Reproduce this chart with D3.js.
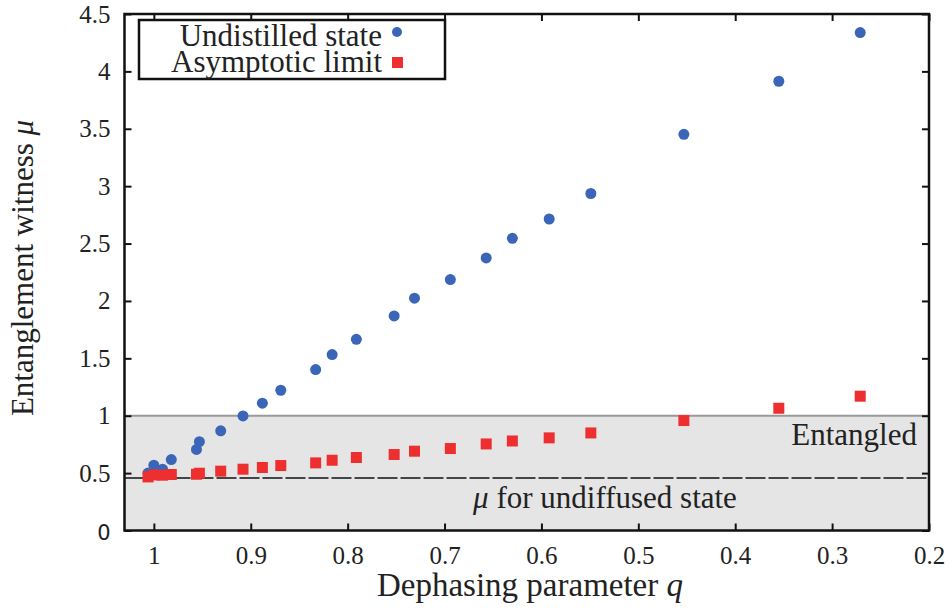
<!DOCTYPE html>
<html>
<head>
<meta charset="utf-8">
<script src="https://cdn.jsdelivr.net/npm/d3@7"></script>
<style>
  body { margin: 0; background: #fff; }
</style>
</head>
<body>
<svg id="chart" width="952" height="610" font-family="Liberation Serif"></svg>
<script>
// dephasing parameter q for every run
const qValues = [1.006, 1.000, 0.991, 0.982, 0.956, 0.953, 0.931, 0.908, 0.888, 0.869,
  0.833, 0.816, 0.791, 0.752, 0.731, 0.694, 0.657, 0.630, 0.592, 0.549, 0.453, 0.355, 0.271]
// undistilled state
const undistilled = [0.50, 0.569, 0.534, 0.618, 0.706, 0.774, 0.868, 0.998, 1.109, 1.222,
  1.402, 1.533, 1.666, 1.869, 2.024, 2.186, 2.375, 2.546, 2.714, 2.936, 3.452, 3.914, 4.338]
// asymptotic limit
const asymptotic = [0.467, 0.484, 0.482, 0.488, 0.490, 0.499, 0.517, 0.534, 0.549, 0.566,
  0.589, 0.612, 0.636, 0.662, 0.691, 0.714, 0.754, 0.780, 0.807, 0.850, 0.958, 1.065, 1.170]
const undiffusedMu = 0.458
const entangledLimit = 1
const xTicks = [1, 0.9, 0.8, 0.7, 0.6, 0.5, 0.4, 0.3, 0.2]
const yTicks = [0, 0.5, 1, 1.5, 2, 2.5, 3, 3.5, 4, 4.5]

const serif = 'Liberation Serif'
const dims = { left: 124.5, right: 929, top: 14, bottom: 530.5 }
const svg = d3.select('#chart')

let x = d3.scaleLinear().domain([1.0303, 0.2]).range([dims.left, dims.right])
let y = d3.scaleLinear().domain([0, 4.5]).range([dims.bottom, dims.top])

// shaded entangled region
svg.append('rect')
  .attr('x', dims.left).attr('width', dims.right - dims.left)
  .attr('y', y(entangledLimit)).attr('height', y(0) - y(entangledLimit))
  .attr('fill', '#e5e5e5')
svg.append('line')
  .attr('x1', dims.left).attr('x2', dims.right)
  .attr('y1', y(entangledLimit)).attr('y2', y(entangledLimit))
  .attr('stroke', '#999').attr('stroke-width', 2)
svg.append('line')
  .attr('x1', dims.left).attr('x2', dims.right)
  .attr('y1', y(undiffusedMu)).attr('y2', y(undiffusedMu))
  .attr('stroke', '#111').attr('stroke-width', 1.6)
  .attr('stroke-dasharray', '20,3')

svg.append('text')
  .attr('x', 917).attr('y', 445)
  .attr('text-anchor', 'end')
  .attr('font-family', serif).attr('font-size', 31).attr('fill', '#222')
  .text('Entangled')
let muText = svg.append('text')
  .attr('x', 605).attr('y', 508)
  .attr('text-anchor', 'middle')
  .attr('font-family', serif).attr('font-size', 31).attr('fill', '#222')
muText.append('tspan').attr('font-style', 'italic').text('μ')
muText.append('tspan').text(' for undiffused state')

// axes, ticks inward on all four sides
let xAxisgen = d3.axisBottom(x).tickValues(xTicks).tickSize(-7).tickFormat(d3.format('')).tickPadding(16)
let yAxisgen = d3.axisLeft(y).tickValues(yTicks).tickSize(-7).tickFormat(d3.format('')).tickPadding(14)

let xAxis = svg.append('g')
  .attr('transform', `translate(0,${dims.bottom})`)
  .call(xAxisgen)
svg.append('g')
  .attr('transform', `translate(0,${dims.top})`)
  .call(d3.axisTop(x).tickValues(xTicks).tickSize(-7).tickFormat(''))
let yAxis = svg.append('g')
  .attr('transform', `translate(${dims.left},0)`)
  .call(yAxisgen)
svg.append('g')
  .attr('transform', `translate(${dims.right},0)`)
  .call(d3.axisRight(y).tickValues(yTicks).tickSize(-7).tickFormat(''))

svg.selectAll('.domain').remove()
svg.selectAll('.tick line').attr('stroke', '#111').attr('stroke-width', 2)
svg.selectAll('.tick text')
  .attr('font-family', serif)
  .attr('font-size', 25)
  .attr('fill', '#222')
// the zero label is set in a sans face in the original
yAxis.selectAll('.tick text').filter(d => d === 0)
  .attr('font-family', 'DejaVu Sans')
  .attr('font-size', 21)
  .attr('dy', '0.45em')

svg.append('rect')
  .attr('x', dims.left).attr('y', dims.top)
  .attr('width', dims.right - dims.left).attr('height', dims.bottom - dims.top)
  .attr('fill', 'none').attr('stroke', '#111').attr('stroke-width', 2.5)

// axis titles
svg.append('text')
  .attr('x', 530).attr('y', 596)
  .attr('text-anchor', 'middle')
  .attr('font-family', serif).attr('font-size', 33).attr('fill', '#222')
  .call(t => {
    t.append('tspan').text('Dephasing parameter ')
    t.append('tspan').attr('font-style', 'italic').text('q')
  })
svg.append('text')
  .attr('transform', 'translate(33,268) rotate(-90)')
  .attr('text-anchor', 'middle')
  .attr('font-family', serif).attr('font-size', 31).attr('fill', '#222')
  .call(t => {
    t.append('tspan').text('Entanglement witness ')
    t.append('tspan').attr('font-style', 'italic').text('μ')
  })

// data
let points = qValues.map((q, i) => ({ q, u: undistilled[i], a: asymptotic[i] }))
svg.append('g').selectAll('circle')
  .data(points)
  .enter()
  .append('circle')
  .attr('cx', d => x(d.q))
  .attr('cy', d => y(d.u))
  .attr('r', 5.5)
  .attr('fill', '#3b66b8')
svg.append('g').selectAll('rect')
  .data(points)
  .enter()
  .append('rect')
  .attr('x', d => x(d.q) - 5.5)
  .attr('y', d => y(d.a) - 5.5)
  .attr('width', 11).attr('height', 11)
  .attr('fill', '#ee2f2f')

// legend
let legend = svg.append('g')
legend.append('rect')
  .attr('x', 139).attr('y', 20).attr('width', 306).attr('height', 59)
  .attr('fill', '#fff').attr('stroke', '#111').attr('stroke-width', 2.5)
legend.append('text').attr('x', 382).attr('y', 46).attr('text-anchor', 'end')
  .attr('font-family', serif).attr('font-size', 31).attr('fill', '#222').text('Undistilled state')
legend.append('text').attr('x', 382).attr('y', 72).attr('text-anchor', 'end')
  .attr('font-family', serif).attr('font-size', 31).attr('fill', '#222').text('Asymptotic limit')
legend.append('circle').attr('cx', 397).attr('cy', 32).attr('r', 5).attr('fill', '#3b66b8')
legend.append('rect').attr('x', 392).attr('y', 57).attr('width', 11).attr('height', 11).attr('fill', '#ee2f2f')
</script>
</body>
</html>
